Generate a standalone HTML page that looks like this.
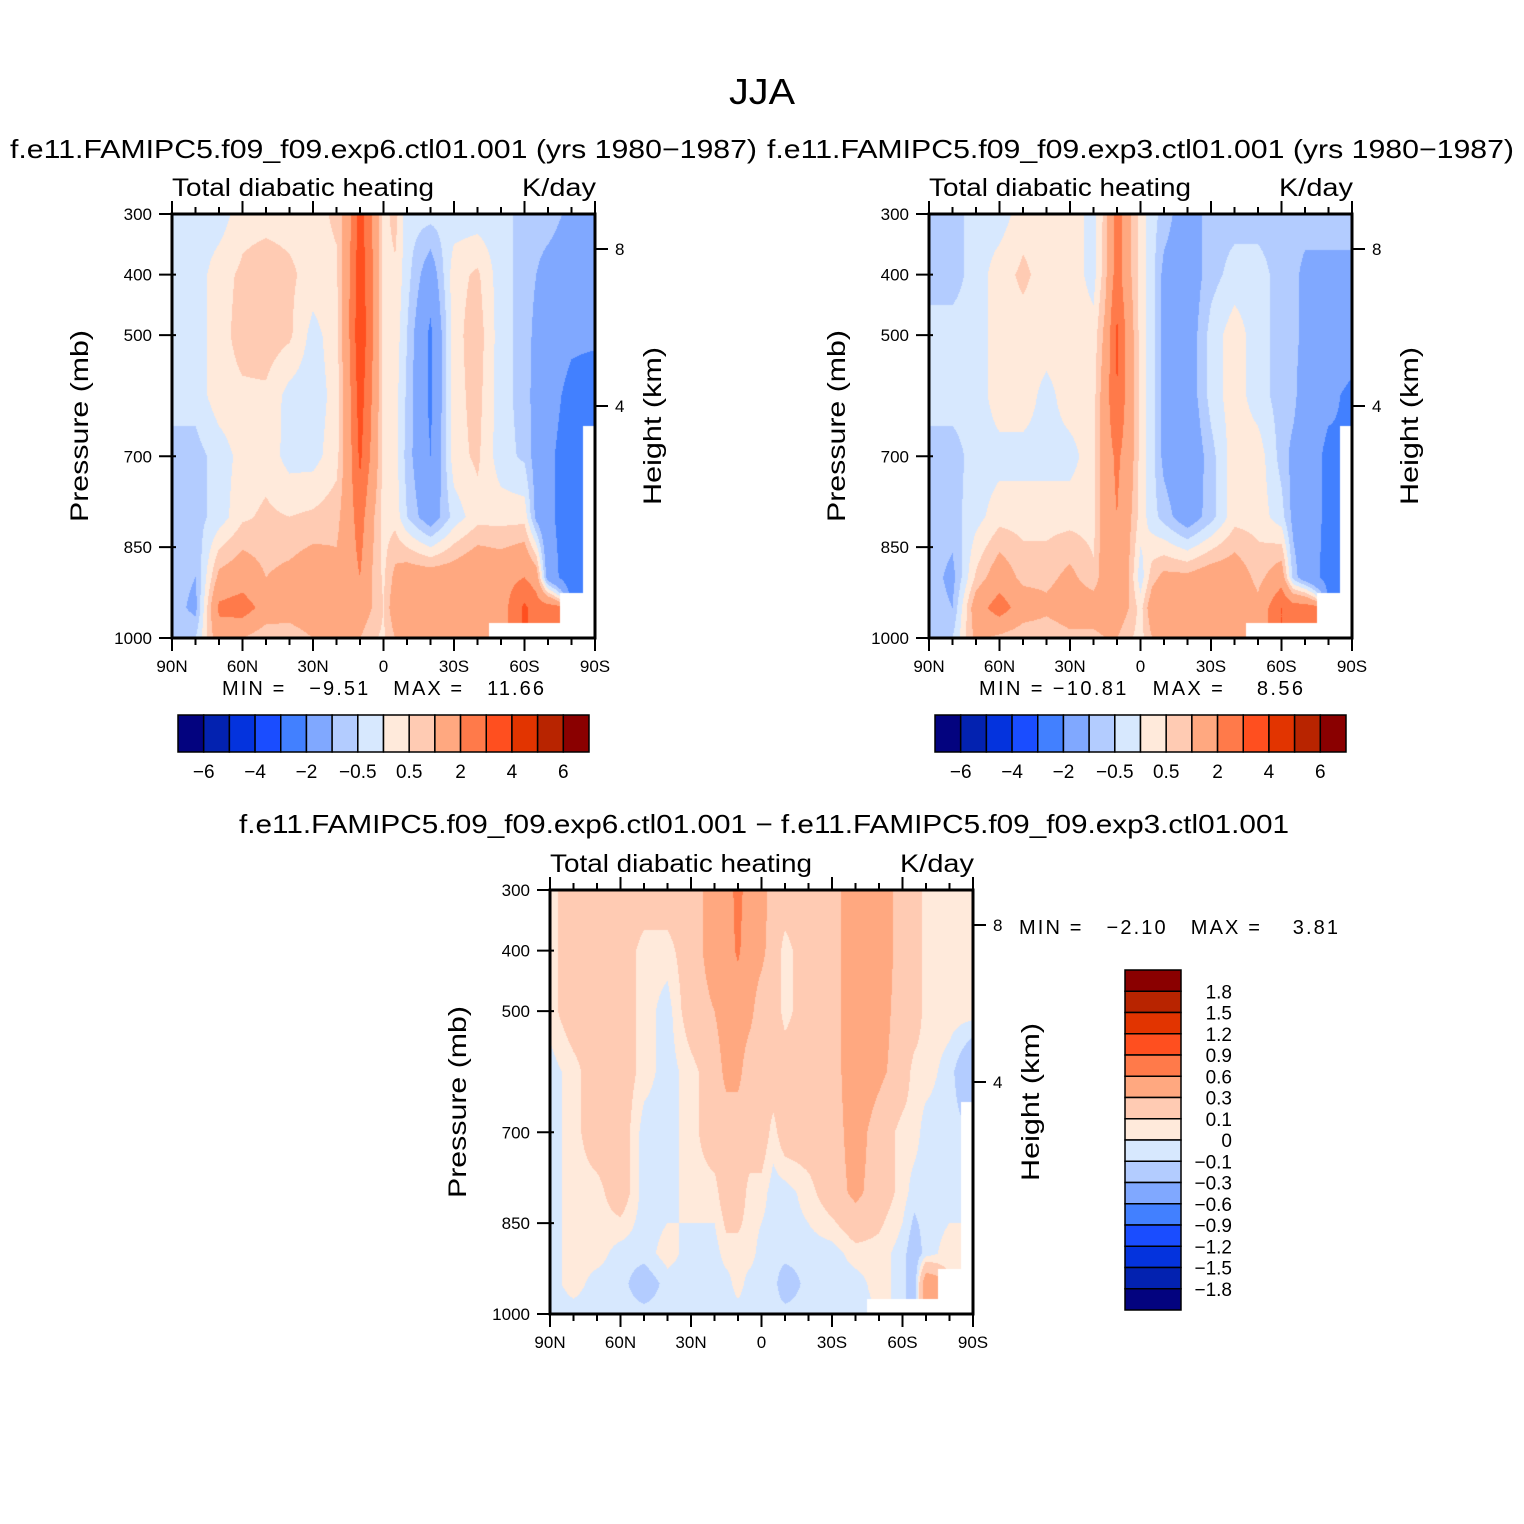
<!DOCTYPE html>
<html><head><meta charset="utf-8"><title>JJA Total diabatic heating</title>
<style>
html,body{margin:0;padding:0;background:#fff;}
#root{position:relative;width:1524px;height:1524px;overflow:hidden;font-family:"Liberation Sans",sans-serif;}
canvas{position:absolute;}
svg{position:absolute;left:0;top:0;}
text{font-family:"Liberation Sans",sans-serif;fill:#000;white-space:pre;}
</style></head>
<body>
<div id="root">
<canvas id="c1" width="423" height="424" style="left:172px;top:214px"></canvas>
<canvas id="c2" width="423" height="424" style="left:929px;top:214px"></canvas>
<canvas id="c3" width="423" height="424" style="left:550px;top:890px"></canvas>
<svg id="ov" width="1524" height="1524">
<text x="762" y="104" font-size="36" text-anchor="middle" textLength="66" lengthAdjust="spacingAndGlyphs">JJA</text>
<text x="10" y="158" font-size="26" textLength="747" lengthAdjust="spacingAndGlyphs">f.e11.FAMIPC5.f09_f09.exp6.ctl01.001 (yrs 1980−1987)</text>
<text x="767" y="158" font-size="26" textLength="747" lengthAdjust="spacingAndGlyphs">f.e11.FAMIPC5.f09_f09.exp3.ctl01.001 (yrs 1980−1987)</text>
<text x="239" y="833" font-size="26" textLength="1050" lengthAdjust="spacingAndGlyphs">f.e11.FAMIPC5.f09_f09.exp6.ctl01.001 − f.e11.FAMIPC5.f09_f09.exp3.ctl01.001</text>
<text x="222" y="695" font-size="20" textLength="322" lengthAdjust="spacing">MIN =   −9.51   MAX =   11.66</text>
<text x="979" y="695" font-size="20" textLength="324" lengthAdjust="spacing">MIN = −10.81   MAX =    8.56</text>
<text x="1019" y="934" font-size="20" textLength="319" lengthAdjust="spacing">MIN =   −2.10   MAX =    3.81</text>
</svg>
</div>
<script>
// ---- data ----
const lats = [90,80,70,60,50,40,30,20,15,10,5,0,-5,-10,-20,-30,-40,-50,-60,-65,-70,-80,-90];
const plevs = [300,400,500,600,700,800,900,950,1000];
const levelsTop = [-6,-5,-4,-3,-2,-1,-0.5,0,0.5,1,2,3,4,5,6];
const levelsDiff = [-1.8,-1.5,-1.2,-0.9,-0.6,-0.3,-0.1,0,0.1,0.3,0.6,0.9,1.2,1.5,1.8];
const tickLabelsTop = ["−6","−4","−2","−0.5","0.5","2","4","6"];
const tickLabelsDiff = ["1.8","1.5","1.2","0.9","0.6","0.3","0.1","0","−0.1","−0.3","−0.6","−0.9","−1.2","−1.5","−1.8"];
const latTicks = [90,60,30,0,-30,-60,-90];
const latTickLabels = ["90N","60N","30N","0","30S","60S","90S"];
const presTicks = [300,400,500,700,850,1000];
const heightTicks = [[8,249],[4,406]];
const N = NaN;
const heatExp6 = [
 [-0.3,-0.3,-0.3,0.3,0.3,0.3,0.3,0.6,1.5,3.5,2.0,0.3,0.7,-0.3,-0.3,-0.3,-0.3,-0.3,-0.7,-0.7,-0.7,-1.2,-1.2],
 [-0.3,-0.3,0.3,0.6,0.8,0.6,0.3,0.4,1.8,3.6,2.2,0.3,0.4,-0.3,-1.5,0.3,0.6,-0.3,-0.7,-1.0,-1.3,-1.5,-1.8],
 [-0.3,-0.3,0.3,0.7,0.8,0.6,-0.2,0.3,1.8,3.8,2.2,0.3,0.3,-0.5,-2.2,0.3,0.8,-0.3,-0.7,-1.2,-1.4,-1.8,-1.8],
 [-0.3,-0.3,0.3,0.4,0.4,-0.2,-0.3,0.2,1.6,3.5,2.0,0.3,0.2,-0.6,-2.2,0.3,0.7,-0.3,-0.7,-1.3,-1.6,-2.3,-2.6],
 [-0.7,-0.7,-0.3,0.2,0.3,-0.2,-0.2,0.3,1.5,3.2,1.8,0.3,0.2,-0.7,-2.0,0.3,0.6,-0.3,-0.6,-1.3,-1.8,-2.5,N],
 [-0.7,-0.7,-0.3,0.4,0.6,0.5,0.6,0.8,1.5,2.5,1.2,0.3,0.3,-0.5,-1.5,-0.3,0.3,0.3,0.3,-1.2,-1.8,-2.5,N],
 [-0.7,-1.0,1.2,1.5,1.0,1.2,1.5,1.2,1.5,2.0,1.0,0.4,1.2,1.5,1.5,1.5,1.8,1.6,2.0,1.5,-1.5,-2.6,N],
 [-0.7,-1.2,2.2,2.5,1.6,1.5,1.8,1.8,1.6,1.5,1.0,0.5,1.5,1.8,2.0,2.0,1.8,1.5,3.2,2.5,2.5,N,N],
 [-0.5,-0.5,1.5,1.0,0.5,0.5,1.0,1.0,1.0,1.0,0.6,0.4,1.0,1.2,1.2,1.2,1.2,N,N,N,N,N,N]
];
const heatExp3 = [
 [-0.7,-0.7,-0.3,-0.3,0.3,0.3,0.3,-0.2,0.7,2.5,1.2,0.3,-0.3,-0.7,-1.5,-0.7,-0.7,-0.7,-0.7,-0.7,-0.7,-0.7,-0.7],
 [-0.7,-0.7,-0.3,0.3,0.6,0.3,0.3,-0.2,0.8,2.5,1.2,0.3,-0.3,-1.2,-1.5,-0.7,-0.3,-0.3,-0.7,-0.8,-1.2,-1.2,-1.2],
 [-0.3,-0.3,-0.3,0.3,0.3,0.3,0.3,0.2,1.2,3.2,1.5,0.3,-0.3,-1.2,-1.5,-0.3,0.3,-0.3,-0.7,-0.8,-1.2,-1.5,-1.5],
 [-0.3,-0.3,-0.3,0.3,0.3,-0.2,0.3,0.3,1.5,3.0,1.5,0.3,-0.3,-1.2,-1.5,-0.3,0.3,-0.3,-0.7,-0.8,-1.5,-1.8,-2.2],
 [-0.7,-0.7,-0.3,-0.2,-0.2,-0.2,-0.2,0.3,1.5,2.2,1.5,0.3,-0.3,-1.2,-1.7,-0.7,0.3,0.3,-0.7,-1.2,-1.5,-2.2,N],
 [-0.7,-0.7,-0.2,0.3,0.3,0.3,0.3,0.3,1.5,2.0,1.2,0.3,-0.3,-0.7,-1.5,-0.7,0.3,0.3,-0.3,-1.2,-1.5,-2.2,N],
 [-0.7,-1.2,0.6,1.5,0.8,0.8,1.2,0.6,1.5,1.8,1.0,-0.3,0.8,1.2,1.2,1.5,1.5,0.8,1.5,-0.7,-1.5,-2.3,N],
 [-0.7,-1.0,1.5,2.5,1.5,1.2,1.5,1.5,1.5,1.5,1.0,0.3,1.5,1.5,1.8,1.8,1.8,1.2,3.0,2.5,2.5,N,N],
 [-0.5,-0.5,1.2,0.8,0.5,0.5,0.8,0.8,1.0,1.0,0.6,0.3,1.0,1.2,1.2,1.2,1.0,N,N,N,N,N,N]
];
const heatDiff = [
 [0.05,0.2,0.2,0.2,0.2,0.2,0.2,0.4,0.45,0.7,0.45,0.4,0.2,0.2,0.2,0.2,0.45,0.45,0.2,0.2,0.05,0.05,0.05],
 [0.05,0.2,0.2,0.2,0.05,0.05,0.2,0.4,0.45,0.65,0.4,0.35,0.2,0.05,0.2,0.2,0.45,0.45,0.2,0.2,0.05,0.05,0.05],
 [0.05,0.2,0.2,0.2,0.05,-0.05,0.2,0.3,0.4,0.4,0.35,0.2,0.2,0.05,0.2,0.2,0.45,0.4,0.2,0.2,0.05,0.05,0.05],
 [-0.05,0.05,0.2,0.2,0.05,-0.05,0.05,0.2,0.35,0.35,0.2,0.2,0.2,0.2,0.2,0.2,0.45,0.35,0.2,0.05,0.05,-0.05,-0.3],
 [-0.05,0.05,0.2,0.2,-0.05,-0.05,0.05,0.2,0.2,0.2,0.2,0.2,0.05,0.2,0.2,0.2,0.4,0.2,0.05,0.05,-0.05,-0.05,N],
 [-0.05,0.05,0.05,0.2,-0.05,-0.05,0.05,0.05,0.2,0.2,0.05,0.05,-0.05,-0.05,0.05,0.2,0.35,0.2,0.05,-0.05,-0.05,-0.05,N],
 [-0.05,0.05,0.05,-0.05,-0.05,0.05,-0.05,-0.05,0.05,0.05,0.05,-0.05,-0.05,-0.05,-0.05,-0.05,0.05,0.05,-0.05,-0.2,-0.05,0.05,N],
 [-0.05,0.05,-0.05,-0.05,-0.2,-0.05,-0.05,-0.05,-0.05,0.05,-0.05,-0.05,-0.05,-0.2,-0.05,-0.05,-0.05,0.05,-0.05,-0.2,0.5,N,N],
 [-0.05,-0.05,-0.05,-0.05,-0.05,-0.05,-0.05,-0.05,-0.05,-0.05,-0.05,-0.05,-0.05,-0.05,-0.05,-0.05,-0.05,N,N,N,N,N,N]
];
const palette = ["#03037f","#0322b0","#0433dd","#1a4dff","#4280ff","#80a8ff","#b3ccff","#d7e8fe","#ffeadb","#ffcbb3","#ffa880","#ff7a4a","#ff4f1f","#e23400","#b82400","#8a0000"];

// ---- helpers ----
const W = 423, H = 424;
const xOfLat = lat => (90 - lat) / 180 * W;
const yOfP = p => (p - 300) / 700 * H;
function hex(c){return [parseInt(c.substr(1,2),16),parseInt(c.substr(3,2),16),parseInt(c.substr(5,2),16)];}
const palRGB = palette.map(hex);
function colorIdx(v, lev){let k=0; while(k<lev.length && v>=lev[k]) k++; return k;}
function sample(grid, lat, p){
  let i=0; while(i<lats.length-2 && lat<lats[i+1]) i++;
  let j=0; while(j<plevs.length-2 && p>plevs[j+1]) j++;
  const tx=(lats[i]-lat)/(lats[i]-lats[i+1]), ty=(p-plevs[j])/(plevs[j+1]-plevs[j]);
  const ni = i + (tx>0.5?1:0), nj = j + (ty>0.5?1:0);
  if (isNaN(grid[nj][ni])) return NaN;
  const cs=[[grid[j][i],(1-tx)*(1-ty)],[grid[j][i+1],tx*(1-ty)],[grid[j+1][i],(1-tx)*ty],[grid[j+1][i+1],tx*ty]];
  let s=0,w=0; for(const [v,wt] of cs){ if(!isNaN(v)){s+=v*wt;w+=wt;} }
  return w>0? s/w : NaN;
}
function drawField(id, grid, lev){
  const ctx=document.getElementById(id).getContext('2d');
  const img=ctx.createImageData(W,H);
  for(let y=0;y<H;y++){
    const p=300+(y+0.5)/H*700;
    for(let x=0;x<W;x++){
      const lat=90-(x+0.5)/W*180;
      const v=sample(grid,lat,p);
      const o=(y*W+x)*4;
      if(isNaN(v)){img.data[o]=255;img.data[o+1]=255;img.data[o+2]=255;}
      else{const c=palRGB[colorIdx(v,lev)];img.data[o]=c[0];img.data[o+1]=c[1];img.data[o+2]=c[2];}
      img.data[o+3]=255;
    }
  }
  ctx.putImageData(img,0,0);
}
drawField('c1',heatExp6,levelsTop);
drawField('c2',heatExp3,levelsTop);
drawField('c3',heatDiff,levelsDiff);

// ---- axes ----
const svg=document.getElementById('ov');
const NS='http://www.w3.org/2000/svg';
function mk(tag, attrs, parent){const e=document.createElementNS(NS,tag);for(const k in attrs)e.setAttribute(k,attrs[k]);(parent||svg).appendChild(e);return e;}
function txt(x,y,s,size,anchor,parent){const t=mk('text',{x:x,y:y,'font-size':size,'text-anchor':anchor||'start'},parent);t.textContent=s;return t;}

function axes(ox, oy, tag){
  const g=mk('g',{});
  
  
  for(let lat=90; lat>=-90; lat-=10){
    const x=ox+xOfLat(lat); const major = lat%30===0;
    const L= major?13:7;
    mk('line',{x1:x,y1:oy+H,x2:x,y2:oy+H+L,stroke:'#000','stroke-width':2},g);
    mk('line',{x1:x,y1:oy,x2:x,y2:oy-L,stroke:'#000','stroke-width':2},g);
  }
  latTicks.forEach((lat,k)=>{
    const t=txt(ox+xOfLat(lat), oy+H+34, latTickLabels[k], 17, 'middle', g);
    
    
  });
  presTicks.forEach(p=>{
    const y=oy+yOfP(p);
    mk('line',{x1:ox-13,y1:y,x2:ox+4,y2:y,stroke:'#000','stroke-width':2},g);
    const t=txt(ox-20, y+6, String(p), 17, 'end', g);
    
    
  });
  heightTicks.forEach(h=>{
    const y=oy+h[1]-214;
    mk('line',{x1:ox+W,y1:y,x2:ox+W+13,y2:y,stroke:'#000','stroke-width':2},g);
    const t=txt(ox+W+20, y+6, String(h[0]), 17, 'start', g);
    
    
  });
  mk('rect',{x:ox,y:oy,width:W,height:H,fill:'none',stroke:'#000','stroke-width':3},g);
  const t1=mk('text',{x:ox,y:oy-18,'font-size':25,textLength:262,lengthAdjust:'spacingAndGlyphs'},g);
  t1.textContent='Total diabatic heating';
  
  
  const t2=mk('text',{x:ox+W+1-74,y:oy-18,'font-size':25,textLength:74,lengthAdjust:'spacingAndGlyphs'},g);
  t2.textContent='K/day';
  
  
  const yl=mk('text',{x:0,y:0,'font-size':25,'text-anchor':'middle',transform:`translate(${ox-84},${oy+212}) rotate(-90)`,textLength:192,lengthAdjust:'spacingAndGlyphs'},g);
  yl.textContent='Pressure (mb)';
  
  
  const hl=mk('text',{x:0,y:0,'font-size':25,'text-anchor':'middle',transform:`translate(${ox+W+66},${oy+212}) rotate(-90)`,textLength:158,lengthAdjust:'spacingAndGlyphs'},g);
  hl.textContent='Height (km)';
  
  
}
axes(172,214,'panel1');
axes(929,214,'panel2');
axes(550,890,'panel3');

// ---- horizontal colorbars ----
function hbar(x0, tag){
  const y0=715, bw=411/16, bh=37;
  const g=mk('g',{});
  
  
  palette.forEach((c,k)=>{
    const r=mk('rect',{x:x0+k*bw,y:y0,width:bw,height:bh,fill:c,stroke:'#000','stroke-width':1.5},g);
    
    
  });
  tickLabelsTop.forEach((s,k)=>{
    const t=txt(x0+(2*k+1)*bw, 778, s, 19, 'middle', g);
    
    
  });
}
hbar(178,'panel1-colorbar');
hbar(935,'panel2-colorbar');

// ---- vertical colorbar ----
(function(){
  const x0=1125, y0=970, bw=56, bh=340/16;
  const g=mk('g',{});
  
  
  palette.slice().reverse().forEach((c,k)=>{
    const r=mk('rect',{x:x0,y:y0+k*bh,width:bw,height:bh,fill:c,stroke:'#000','stroke-width':1.5},g);
    
    
  });
  tickLabelsDiff.forEach((s,k)=>{
    const t=txt(1232, y0+(k+1)*bh+7, s, 19, 'end', g);
    
    
  });
})();
</script>
</body></html>
